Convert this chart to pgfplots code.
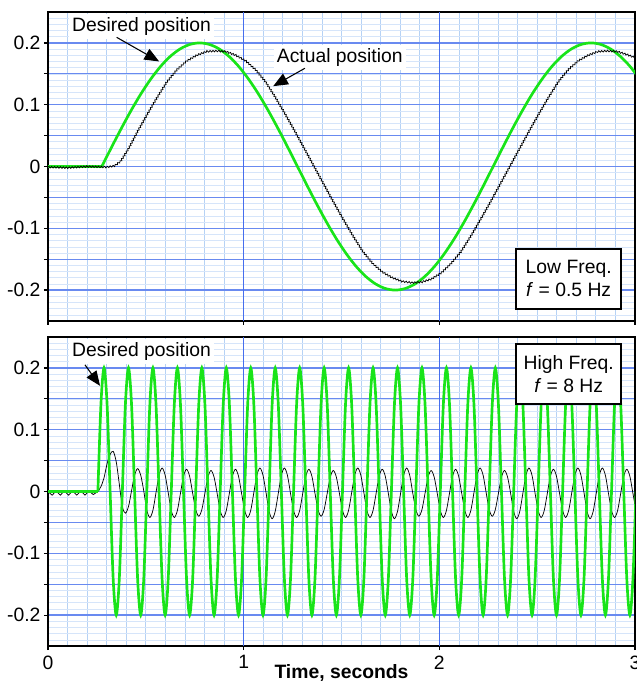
\documentclass[border=0pt]{standalone}
\usepackage{fontspec}
\setmainfont{Liberation Sans}
\usepackage{pgfplots}
\pgfplotsset{compat=1.18}
\usepackage{pgfplotstable}
\usetikzlibrary{arrows.meta,decorations.pathmorphing}

\definecolor{gmaj}{RGB}{70,110,238}
\definecolor{ymaj}{RGB}{105,138,240}
\definecolor{minx}{RGB}{182,210,245}
\definecolor{miny}{RGB}{214,229,250}
\definecolor{lgreen}{RGB}{25,228,25}

\newcommand\fs{\fontsize{14.5}{17}\selectfont}

\pgfplotstableread{
t d a
0.2550 0 0.000
0.2706 0.1414 0.008
0.2863 0.2 0.022
0.3019 0.1414 0.045
0.3175 0 0.060
0.3331 -0.1414 0.065
0.3488 -0.2 0.048
0.3644 -0.1414 0.012
0.3800 0 -0.0245
0.3956 0.1414 -0.035
0.4113 0.2 -0.0245
0.4269 0.1414 0.001
0.4425 0 0.0265
0.4581 -0.1414 0.037
0.4738 -0.2 0.0265
0.4894 -0.1414 0.001
0.5050 0 -0.0303
0.5206 0.1414 -0.042
0.5363 0.2 -0.0303
0.5519 0.1414 -0.002
0.5675 0 0.0263
0.5831 -0.1414 0.038
0.5988 -0.2 0.0263
0.6144 -0.1414 -0.002
0.6300 0 -0.0306
0.6456 0.1414 -0.042
0.6613 0.2 -0.0306
0.6769 0.1414 -0.003
0.6925 0 0.0246
0.7081 -0.1414 0.036
0.7238 -0.2 0.0246
0.7394 -0.1414 -0.003
0.7550 0 -0.0292
0.7706 0.1414 -0.040
0.7863 0.2 -0.0292
0.8019 0.1414 -0.003
0.8175 0 0.0232
0.8331 -0.1414 0.034
0.8488 -0.2 0.0232
0.8644 -0.1414 -0.003
0.8800 0 -0.0306
0.8956 0.1414 -0.042
0.9113 0.2 -0.0306
0.9269 0.1414 -0.003
0.9425 0 0.0246
0.9581 -0.1414 0.036
0.9738 -0.2 0.0246
0.9894 -0.1414 -0.003
1.0050 0 -0.0303
1.0206 0.1414 -0.042
1.0363 0.2 -0.0303
1.0519 0.1414 -0.002
1.0675 0 0.0263
1.0831 -0.1414 0.038
1.0988 -0.2 0.0263
1.1144 -0.1414 -0.002
1.1300 0 -0.032
1.1456 0.1414 -0.044
1.1613 0.2 -0.032
1.1769 0.1414 -0.003
1.1925 0 0.026
1.2081 -0.1414 0.038
1.2238 -0.2 0.026
1.2394 -0.1414 -0.003
1.2550 0 -0.0306
1.2706 0.1414 -0.042
1.2863 0.2 -0.0306
1.3019 0.1414 -0.003
1.3175 0 0.0246
1.3331 -0.1414 0.036
1.3488 -0.2 0.0246
1.3644 -0.1414 -0.003
1.3800 0 -0.0292
1.3956 0.1414 -0.040
1.4113 0.2 -0.0292
1.4269 0.1414 -0.003
1.4425 0 0.0232
1.4581 -0.1414 0.034
1.4738 -0.2 0.0232
1.4894 -0.1414 -0.003
1.5050 0 -0.0303
1.5206 0.1414 -0.042
1.5363 0.2 -0.0303
1.5519 0.1414 -0.002
1.5675 0 0.0263
1.5831 -0.1414 0.038
1.5988 -0.2 0.0263
1.6144 -0.1414 -0.002
1.6300 0 -0.0306
1.6456 0.1414 -0.042
1.6613 0.2 -0.0306
1.6769 0.1414 -0.003
1.6925 0 0.0246
1.7081 -0.1414 0.036
1.7238 -0.2 0.0246
1.7394 -0.1414 -0.003
1.7550 0 -0.032
1.7706 0.1414 -0.044
1.7863 0.2 -0.032
1.8019 0.1414 -0.003
1.8175 0 0.026
1.8331 -0.1414 0.038
1.8488 -0.2 0.026
1.8644 -0.1414 -0.003
1.8800 0 -0.0292
1.8956 0.1414 -0.040
1.9113 0.2 -0.0292
1.9269 0.1414 -0.003
1.9425 0 0.0232
1.9581 -0.1414 0.034
1.9738 -0.2 0.0232
1.9894 -0.1414 -0.003
2.0050 0 -0.0306
2.0206 0.1414 -0.042
2.0363 0.2 -0.0306
2.0519 0.1414 -0.003
2.0675 0 0.0246
2.0831 -0.1414 0.036
2.0988 -0.2 0.0246
2.1144 -0.1414 -0.003
2.1300 0 -0.0303
2.1456 0.1414 -0.042
2.1613 0.2 -0.0303
2.1769 0.1414 -0.002
2.1925 0 0.0263
2.2081 -0.1414 0.038
2.2238 -0.2 0.0263
2.2394 -0.1414 -0.002
2.2550 0 -0.0292
2.2706 0.1414 -0.040
2.2863 0.2 -0.0292
2.3019 0.1414 -0.003
2.3175 0 0.0232
2.3331 -0.1414 0.034
2.3488 -0.2 0.0232
2.3644 -0.1414 -0.003
2.3800 0 -0.032
2.3956 0.1414 -0.044
2.4113 0.2 -0.032
2.4269 0.1414 -0.003
2.4425 0 0.026
2.4581 -0.1414 0.038
2.4738 -0.2 0.026
2.4894 -0.1414 -0.003
2.5050 0 -0.0306
2.5206 0.1414 -0.042
2.5363 0.2 -0.0306
2.5519 0.1414 -0.003
2.5675 0 0.0246
2.5831 -0.1414 0.036
2.5988 -0.2 0.0246
2.6144 -0.1414 -0.003
2.6300 0 -0.0303
2.6456 0.1414 -0.042
2.6613 0.2 -0.0303
2.6769 0.1414 -0.002
2.6925 0 0.0263
2.7081 -0.1414 0.038
2.7238 -0.2 0.0263
2.7394 -0.1414 -0.002
2.7550 0 -0.032
2.7706 0.1414 -0.044
2.7863 0.2 -0.032
2.8019 0.1414 -0.003
2.8175 0 0.026
2.8331 -0.1414 0.038
2.8488 -0.2 0.026
2.8644 -0.1414 -0.003
2.8800 0 -0.0306
2.8956 0.1414 -0.042
2.9113 0.2 -0.0306
2.9269 0.1414 -0.003
2.9425 0 0.0246
2.9581 -0.1414 0.036
2.9738 -0.2 0.0246
2.9894 -0.1414 -0.003
3.0050 0 -0.0306
}\highfreq

\pgfplotsset{
 panel/.style={
  scale only axis, width=440.25pt, height=231.75pt,
  xmin=0, xmax=3, ymin=-0.25, ymax=0.25,
  xtick={0,1,2,3},
  ytick={-0.2,-0.15,-0.1,-0.05,0,0.05,0.1,0.15,0.2},
  yticklabels={-0.2,,-0.1,,0,,0.1,,0.2},
  minor xtick={0.1,0.2,0.3,0.4,0.5,0.6,0.7,0.8,0.9,1.1,1.2,1.3,1.4,1.5,1.6,1.7,1.8,1.9,2.1,2.2,2.3,2.4,2.5,2.6,2.7,2.8,2.9},
  minor ytick={-0.25,-0.24,...,0.25},
  xmajorgrids=false, ymajorgrids, xminorgrids, yminorgrids,
  major x grid style={draw=none},
  major y grid style={draw=ymaj, line width=1pt},
  minor x grid style={draw=minx, line width=0.6pt},
  minor y grid style={draw=miny, line width=0.45pt},
  tick align=outside, tick pos=left,
  major tick length=3pt, minor tick length=0pt,
  major tick style={black, line width=0.9pt},
  axis line style={black, line width=1.5pt},
  tick label style={font=\fs},
  yticklabel style={inner sep=0pt, xshift=-2.5pt},
 },
 vgrid/.style={draw=gmaj, line width=1.1pt, forget plot},
}
\tikzset{
 lbl/.style={fill=white, inner sep=2.5pt, font=\fs},
 fqbox/.style={draw=black, line width=1.5pt, fill=white, align=center, font=\fs, inner sep=3pt, minimum width=79pt, minimum height=45pt},
 arr/.style={black, line width=0.8pt, -{Triangle[length=11pt,width=9pt]}},
}

\begin{document}
\begin{tikzpicture}
% ---------- top panel ----------
\begin{axis}[panel, at={(0pt,243.75pt)}, xticklabels={}]
\addplot[vgrid] coordinates {(1,-0.25) (1,0.25)};
\addplot[vgrid] coordinates {(2,-0.25) (2,0.25)};
\addplot[lgreen, line width=2pt] coordinates {(0,0) (0.275,0)};
\addplot[lgreen, line width=2pt, smooth] coordinates {
(0.275,0) (0.325,0.0313) (0.375,0.0618) (0.425,0.0908) (0.475,0.1176)
(0.525,0.1414) (0.575,0.1618) (0.625,0.1782) (0.675,0.1902) (0.725,0.1975)
(0.775,0.2) (0.825,0.1975) (0.875,0.1902) (0.925,0.1782) (0.975,0.1618)
(1.025,0.1414) (1.075,0.1176) (1.125,0.0908) (1.175,0.0618) (1.225,0.0313)
(1.275,0) (1.325,-0.0313) (1.375,-0.0618) (1.425,-0.0908) (1.475,-0.1176)
(1.525,-0.1414) (1.575,-0.1618) (1.625,-0.1782) (1.675,-0.1902) (1.725,-0.1975)
(1.775,-0.2) (1.825,-0.1975) (1.875,-0.1902) (1.925,-0.1782) (1.975,-0.1618)
(2.025,-0.1414) (2.075,-0.1176) (2.125,-0.0908) (2.175,-0.0618) (2.225,-0.0313)
(2.275,0) (2.325,0.0313) (2.375,0.0618) (2.425,0.0908) (2.475,0.1176)
(2.525,0.1414) (2.575,0.1618) (2.625,0.1782) (2.675,0.1902) (2.725,0.1975)
(2.775,0.2) (2.825,0.1975) (2.875,0.1902) (2.925,0.1782) (2.975,0.1618)
(3.025,0.1414)};
\addplot[black, line width=0.55pt, decorate,
  decoration={zigzag, segment length=2.2pt, amplitude=0.6pt}] coordinates {
(0,-0.001) (0.1,-0.002) (0.2,0.0) (0.3,-0.001) (0.34,0.001) (0.37,0.008)
(0.41,0.028) (0.46,0.058) (0.51,0.086) (0.56,0.113) (0.61,0.138)
(0.66,0.157) (0.71,0.171) (0.76,0.180) (0.81,0.186) (0.86,0.187)
(0.91,0.186) (0.96,0.180) (1.01,0.171) (1.06,0.157) (1.11,0.138)
(1.16,0.113) (1.21,0.086) (1.26,0.058) (1.31,0.029) (1.36,0)
(1.41,-0.029) (1.46,-0.058) (1.51,-0.086) (1.56,-0.113) (1.61,-0.138)
(1.66,-0.157) (1.71,-0.171) (1.76,-0.180) (1.81,-0.186) (1.86,-0.188)
(1.91,-0.187) (1.96,-0.182) (2.01,-0.172) (2.06,-0.157) (2.11,-0.138)
(2.16,-0.113) (2.21,-0.086) (2.26,-0.058) (2.31,-0.029) (2.36,0)
(2.41,0.029) (2.46,0.058) (2.51,0.086) (2.56,0.113) (2.61,0.138)
(2.66,0.157) (2.71,0.171) (2.76,0.180) (2.81,0.186) (2.86,0.187)
(2.91,0.186) (2.96,0.181) (3.0,0.176)};
\node[lbl] at (axis cs:0.478,0.226) {Desired position};
\draw[arr] (axis cs:0.351,0.209) -- (axis cs:0.568,0.170);
\node[lbl] at (axis cs:1.491,0.176) {Actual position};
\draw[arr] (axis cs:1.313,0.159) -- (axis cs:1.151,0.130);
\node[fqbox] at (axis cs:2.661,-0.1815) {Low Freq.\\\textit{f} = 0.5 Hz};
\end{axis}
% ---------- bottom panel ----------
\begin{axis}[panel, at={(0pt,0pt)}, name=bot,
  xticklabels={0,1,2,3},
  xticklabel style={inner sep=0pt, anchor=north, yshift=-4pt}]
\addplot[vgrid] coordinates {(1,-0.25) (1,0.25)};
\addplot[vgrid] coordinates {(2,-0.25) (2,0.25)};
\addplot[black, line width=0.55pt] coordinates {
(0,0) (0.021,-0.006) (0.042,0.001) (0.063,-0.006) (0.084,0.001) (0.105,-0.006)
(0.126,0.001) (0.147,-0.006) (0.168,0.001) (0.189,-0.006) (0.21,0.001)
(0.231,-0.005) (0.255,0)};
\addplot[black, line width=0.55pt, smooth] table[x=t, y=a] {\highfreq};
\addplot[lgreen, line width=2pt] coordinates {(0,0) (0.255,0)};
\addplot[lgreen, line width=2pt, smooth] table[x=t, y=d] {\highfreq};
\node[lbl] at (axis cs:0.478,0.226) {Desired position};
\draw[arr] (axis cs:0.189,0.205) -- (axis cs:0.266,0.171);
\node[fqbox] at (axis cs:2.661,0.190) {High Freq.\\\textit{f} = 8 Hz};
\end{axis}
\node[font=\fs\bfseries, anchor=base] at ([yshift=-24pt]bot.south) {Time, seconds};
\pgfresetboundingbox
\useasboundingbox (-36pt,-27pt) rectangle (441pt,484.5pt);
\end{tikzpicture}
\end{document}
